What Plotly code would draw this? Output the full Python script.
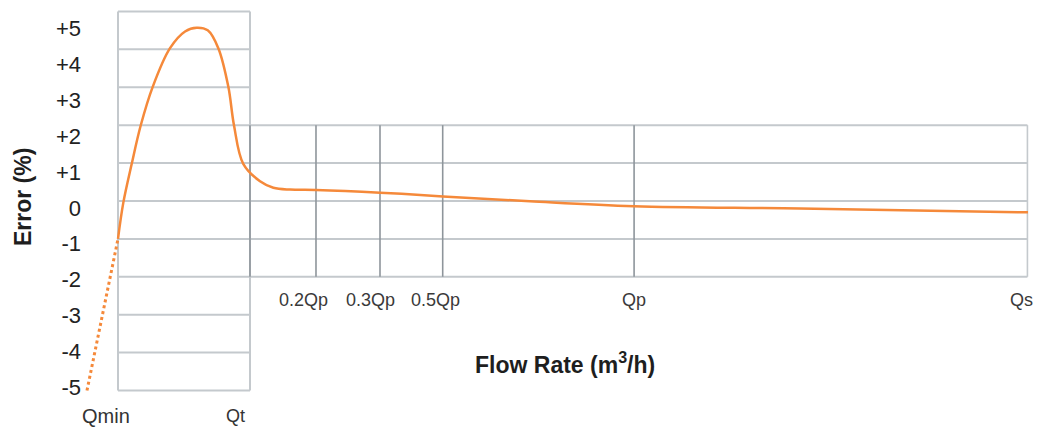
import plotly.graph_objects as go

# ---- data ----
categories = ["Qmin", "Qt", "0.2Qp", "0.3Qp", "0.5Qp", "Qp", "Qs"]
category_pos = [0.0, 1.0, 1.5, 1.985, 2.46, 3.91, 6.89]

y_tick_values = [5, 4, 3, 2, 1, 0, -1, -2, -3, -4, -5]
y_tick_labels = ["+5", "+4", "+3", "+2", "+1", "0", "-1", "-2", "-3", "-4", "-5"]

curve_x = [0.0, 0.040, 0.104, 0.172, 0.263, 0.394, 0.508, 0.596, 0.68,
           0.760, 0.836, 0.879, 0.949, 1.076, 1.177, 1.303, 1.5, 1.985,
           2.462, 3.121, 3.909, 5.167, 6.894]
curve_err = [-1.0, -0.05, 0.98, 1.99, 3.01, 4.03, 4.47, 4.57, 4.50,
             4.03, 3.01, 1.99, 0.98, 0.52, 0.35, 0.30, 0.29, 0.22,
             0.12, -0.01, -0.14, -0.20, -0.30]

extrap_x = [-0.235, 0.0]
extrap_err = [-5.0, -1.0]

# ---- styles ----
ORANGE = "#F5893A"
GRID_LIGHT = "#C4C9CD"
GRID_DARK = "#8E959B"
FONT = "Arial, Liberation Sans, sans-serif"

fig = go.Figure()

fig.add_trace(go.Scatter(x=extrap_x, y=extrap_err, mode="lines",
                         line=dict(color=ORANGE, width=3, dash="dot"),
                         hoverinfo="skip", showlegend=False))
fig.add_trace(go.Scatter(x=curve_x, y=curve_err, mode="lines",
                         line=dict(color=ORANGE, width=2.5, shape="spline", smoothing=1.0),
                         showlegend=False))
# carrier trace for the label axis
fig.add_trace(go.Scatter(x=[category_pos[0]], y=[0], yaxis="y2", mode="markers",
                         marker=dict(opacity=0), hoverinfo="skip", showlegend=False))

x_qmin, x_qt, x_qs = category_pos[0], category_pos[1], category_pos[-1]
shapes = []
# left box: full -5..+5 grid between Qmin and Qt
for v in y_tick_values:
    shapes.append(dict(type="line", xref="x", yref="y", x0=x_qmin, x1=x_qt, y0=v, y1=v,
                       line=dict(color=GRID_LIGHT, width=2), layer="below"))
for xv in (x_qmin, x_qt):
    shapes.append(dict(type="line", xref="x", yref="y", x0=xv, x1=xv, y0=-5, y1=5,
                       line=dict(color=GRID_LIGHT, width=2), layer="below"))
# right box: -2..+2 between Qt and Qs
for v in [2, 1, 0, -1, -2]:
    shapes.append(dict(type="line", xref="x", yref="y", x0=x_qt, x1=x_qs, y0=v, y1=v,
                       line=dict(color=GRID_LIGHT, width=2), layer="below"))
for xv in category_pos[1:]:
    shapes.append(dict(type="line", xref="x", yref="y", x0=xv, x1=xv, y0=-2, y1=2,
                       line=dict(color=GRID_DARK if xv != x_qs else GRID_LIGHT, width=1.6),
                       layer="below"))

annotations = []
label_shift = [-12, -14, -12, -10, -7, 0, -6]
for name, xv, sh in zip(categories, category_pos, label_shift):
    low_row = name in ("Qmin", "Qt")
    annotations.append(dict(x=xv, y=-0.04 if low_row else 0.255, xref="x", yref="paper",
                            text=name, showarrow=False, xanchor="center", yanchor="middle",
                            xshift=sh,
                            font=dict(family=FONT, size=20 if name == "Qmin" else 18,
                                      color="#333333" if low_row else "#3A3A3A")))
annotations.append(dict(x=0.505, y=0.094, xref="paper", yref="paper",
                        text="<b>Flow Rate (m<sup>3</sup>/h)</b>", showarrow=False,
                        xanchor="center", yanchor="middle",
                        font=dict(family=FONT, size=23, color="#1E1E1E")))
annotations.append(dict(x=-0.064, y=0.518, xref="paper", yref="paper",
                        text="<b>Error (%)</b>", showarrow=False, textangle=-90,
                        xanchor="center", yanchor="middle",
                        font=dict(family=FONT, size=23, color="#1E1E1E")))

fig.update_layout(
    width=1039, height=427,
    margin=dict(l=84, r=3, t=8, b=27, autoexpand=False),
    paper_bgcolor="white", plot_bgcolor="white",
    xaxis=dict(range=[-0.2576, 6.955], visible=False, automargin=False),
    yaxis=dict(range=[-5.25, 5.09], visible=False, automargin=False),
    yaxis2=dict(range=[-5.354, 5.571], overlaying="y", side="left", automargin=False,
                tickvals=y_tick_values, ticktext=y_tick_labels,
                showgrid=False, zeroline=False, showline=False, ticks="",
                ticklabelstandoff=2,
                tickfont=dict(family=FONT, size=22, color="#222222")),
    shapes=shapes, annotations=annotations,
)

fig.write_html("out.html", config={"displayModeBar": False},
               post_script="document.body.style.margin='0';document.body.style.overflow='hidden';")
